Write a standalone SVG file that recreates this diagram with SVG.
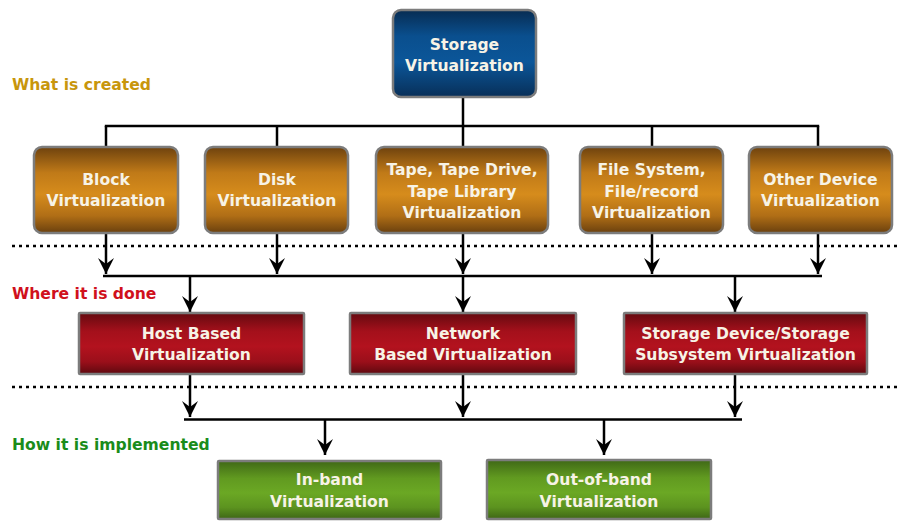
<svg xmlns="http://www.w3.org/2000/svg" width="901" height="521" viewBox="0 0 901 521">
  <defs>
    <linearGradient id="gBlue" x1="0" y1="0" x2="0" y2="1">
      <stop offset="0" stop-color="#072c52"/>
      <stop offset="0.3" stop-color="#0a4f8e"/>
      <stop offset="0.6" stop-color="#0b5699"/>
      <stop offset="1" stop-color="#082f58"/>
    </linearGradient>
    <linearGradient id="gOrange" x1="0" y1="0" x2="0" y2="1">
      <stop offset="0" stop-color="#6e420e"/>
      <stop offset="0.3" stop-color="#c07a18"/>
      <stop offset="0.55" stop-color="#d68c1c"/>
      <stop offset="0.8" stop-color="#b06e16"/>
      <stop offset="1" stop-color="#6a400e"/>
    </linearGradient>
    <linearGradient id="gRed" x1="0" y1="0" x2="0" y2="1">
      <stop offset="0" stop-color="#650a10"/>
      <stop offset="0.3" stop-color="#a4101b"/>
      <stop offset="0.55" stop-color="#b3121e"/>
      <stop offset="0.8" stop-color="#9a0f1a"/>
      <stop offset="1" stop-color="#5e090f"/>
    </linearGradient>
    <linearGradient id="gGreen" x1="0" y1="0" x2="0" y2="1">
      <stop offset="0" stop-color="#3f6816"/>
      <stop offset="0.3" stop-color="#619a20"/>
      <stop offset="0.55" stop-color="#6ba824"/>
      <stop offset="0.8" stop-color="#5c931f"/>
      <stop offset="1" stop-color="#3e6616"/>
    </linearGradient>
    <marker id="arrow" viewBox="0 0 16 16" refX="16" refY="8" markerWidth="16" markerHeight="16" markerUnits="userSpaceOnUse" orient="auto">
      <path d="M0,0 L16,8 L0,16 L6,8 Z" fill="#000"/>
    </marker>
    <style>
      .box { stroke: #7c7c7c; stroke-width: 2.5; }
      .blue { fill: url(#gBlue); }
      .orange { fill: url(#gOrange); }
      .red { fill: url(#gRed); }
      .green { fill: url(#gGreen); }
      .lbl { font-family: "DejaVu Sans", Verdana, sans-serif; font-weight: bold; font-size: 15.6px; fill: #f7f3e6; text-anchor: middle; }
      .side { font-family: "DejaVu Sans", Verdana, sans-serif; font-weight: bold; font-size: 15.6px; }
      .wire { stroke: #000; stroke-width: 2.5; fill: none; }
      .arr { stroke: #000; stroke-width: 2.5; fill: none; marker-end: url(#arrow); }
      .dots { stroke: #000; stroke-width: 2.5; stroke-dasharray: 3 4; fill: none; }
    </style>
  </defs>

  <rect width="901" height="521" fill="#ffffff"/>

  <!-- section labels and separators -->
  <g id="sections">
    <text class="side" x="12" y="90" fill="#c8960c">What is created</text>
    <text class="side" x="12" y="299" fill="#d0101c">Where it is done</text>
    <text class="side" x="12" y="450" fill="#1a8c1a">How it is implemented</text>
    <line class="dots" x1="12" y1="246" x2="900" y2="246"/>
    <line class="dots" x1="12" y1="387" x2="900" y2="387"/>
  </g>

  <!-- connectors -->
  <g id="connectors">
    <!-- root to the "what" row -->
    <line class="wire" x1="463" y1="97" x2="463" y2="126"/>
    <line class="wire" x1="104.8" y1="126" x2="819.2" y2="126"/>
    <line class="wire" x1="106" y1="126" x2="106" y2="147"/>
    <line class="wire" x1="277" y1="126" x2="277" y2="147"/>
    <line class="wire" x1="463" y1="126" x2="463" y2="147"/>
    <line class="wire" x1="652" y1="126" x2="652" y2="147"/>
    <line class="wire" x1="818" y1="126" x2="818" y2="147"/>
    <!-- "what" row to collector bus -->
    <line class="arr" x1="106" y1="233" x2="106" y2="274"/>
    <line class="arr" x1="277" y1="233" x2="277" y2="274"/>
    <line class="arr" x1="463" y1="233" x2="463" y2="274"/>
    <line class="arr" x1="652" y1="233" x2="652" y2="274"/>
    <line class="arr" x1="818" y1="233" x2="818" y2="274"/>
    <line class="wire" x1="103" y1="276" x2="822" y2="276"/>
    <!-- bus to the "where" row -->
    <line class="arr" x1="190" y1="276" x2="190" y2="312"/>
    <line class="arr" x1="463" y1="276" x2="463" y2="312"/>
    <line class="arr" x1="735" y1="276" x2="735" y2="312"/>
    <!-- "where" row to collector bus -->
    <line class="arr" x1="190" y1="374" x2="190" y2="417"/>
    <line class="arr" x1="463" y1="374" x2="463" y2="417"/>
    <line class="arr" x1="735" y1="374" x2="735" y2="417"/>
    <line class="wire" x1="184" y1="419.5" x2="742" y2="419.5"/>
    <!-- bus to the "how" row -->
    <line class="arr" x1="325" y1="419.5" x2="325" y2="455"/>
    <line class="arr" x1="604" y1="419.5" x2="604" y2="455"/>
  </g>

  <g id="storage-virtualization">
    <rect class="box blue" x="393" y="10" width="143" height="87" rx="8"/>
    <text class="lbl"><tspan x="464.5" y="49.5">Storage</tspan><tspan x="464.5" y="71">Virtualization</tspan></text>
  </g>

  <g id="block-virtualization">
    <rect class="box orange" x="34" y="147" width="144" height="86" rx="8"/>
    <text class="lbl"><tspan x="106" y="184.5">Block</tspan><tspan x="106" y="206">Virtualization</tspan></text>
  </g>

  <g id="disk-virtualization">
    <rect class="box orange" x="205" y="147" width="143" height="86" rx="8"/>
    <text class="lbl"><tspan x="277" y="184.5">Disk</tspan><tspan x="277" y="206">Virtualization</tspan></text>
  </g>

  <g id="tape-virtualization">
    <rect class="box orange" x="376" y="147" width="172" height="86" rx="8"/>
    <text class="lbl"><tspan x="462" y="175">Tape, Tape Drive,</tspan><tspan x="462" y="196.5">Tape Library</tspan><tspan x="462" y="218">Virtualization</tspan></text>
  </g>

  <g id="file-virtualization">
    <rect class="box orange" x="580" y="147" width="143" height="86" rx="8"/>
    <text class="lbl"><tspan x="651.5" y="175">File System,</tspan><tspan x="651.5" y="196.5">File/record</tspan><tspan x="651.5" y="218">Virtualization</tspan></text>
  </g>

  <g id="other-device-virtualization">
    <rect class="box orange" x="749" y="147" width="143" height="86" rx="8"/>
    <text class="lbl"><tspan x="820.5" y="184.5">Other Device</tspan><tspan x="820.5" y="206">Virtualization</tspan></text>
  </g>

  <g id="host-based">
    <rect class="box red" x="79" y="313" width="225" height="61" rx="1"/>
    <text class="lbl"><tspan x="191.5" y="338.5">Host Based</tspan><tspan x="191.5" y="360">Virtualization</tspan></text>
  </g>

  <g id="network-based">
    <rect class="box red" x="350" y="313" width="226" height="61" rx="1"/>
    <text class="lbl"><tspan x="463" y="338.5">Network</tspan><tspan x="463" y="360">Based Virtualization</tspan></text>
  </g>

  <g id="storage-device-based">
    <rect class="box red" x="624" y="313" width="243" height="61" rx="1"/>
    <text class="lbl"><tspan x="745.5" y="338.5">Storage Device/Storage</tspan><tspan x="745.5" y="360">Subsystem Virtualization</tspan></text>
  </g>

  <g id="in-band">
    <rect class="box green" x="218" y="461" width="223" height="58" rx="1"/>
    <text class="lbl"><tspan x="329.5" y="485">In-band</tspan><tspan x="329.5" y="506.5">Virtualization</tspan></text>
  </g>

  <g id="out-of-band">
    <rect class="box green" x="487" y="460" width="224" height="59" rx="1"/>
    <text class="lbl"><tspan x="599" y="485">Out-of-band</tspan><tspan x="599" y="506.5">Virtualization</tspan></text>
  </g>
</svg>
